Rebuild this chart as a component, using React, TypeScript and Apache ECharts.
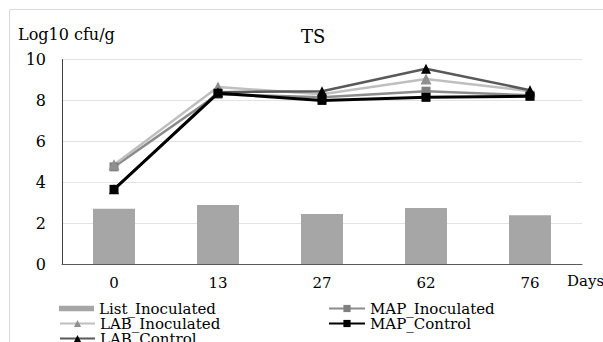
import React, { useEffect, useRef } from "react";
import * as echarts from "echarts";

const days = ["0", "13", "27", "62", "76"];
const listInoculated = [2.7, 2.88, 2.45, 2.74, 2.38];
const mapInoculated = [4.75, 8.3, 8.15, 8.45, 8.25];
const labInoculated = [4.85, 8.65, 8.3, 9.05, 8.45];
const mapControl = [3.65, 8.35, 8.0, 8.15, 8.2];
const labControl = [3.65, 8.4, 8.45, 9.55, 8.5];
const yTicks = { min: 0, max: 10, interval: 2 };

const FONT = "DejaVu Serif";

export default function App() {
  const ref = useRef<HTMLDivElement>(null);
  useEffect(() => {
    if (!ref.current) return;
    const chart = echarts.init(ref.current, undefined, { renderer: "svg" });
    const lineSeries = (
      name: string,
      data: number[],
      lineColor: string,
      markColor: string,
      symbol: string,
      size: number,
      width: number,
      z: number
    ) => ({
      name,
      type: "line",
      data,
      symbol,
      symbolSize: size,
      z,
      lineStyle: { color: lineColor, width },
      itemStyle: { color: markColor },
    });
    const legendText = { fontFamily: FONT, fontSize: 15, color: "#000", lineHeight: 14 };
    const leg = (name: any, left: number, top: number, itemWidth: number) => ({
      left,
      top,
      itemWidth,
      itemHeight: 9,
      padding: 0,
      textStyle: legendText,
      data: [name],
    });
    chart.setOption({
      animation: false,
      title: {
        text: "TS",
        left: 296,
        top: 22,
        textStyle: { fontFamily: FONT, fontSize: 18, fontWeight: "normal", color: "#000" },
      },
      graphic: [
        {
          type: "rect",
          shape: { x: 9.5, y: 9.5, width: 700, height: 400 },
          style: { fill: "none", stroke: "#d9d9d9", lineWidth: 1 },
          silent: true,
        },
        {
          type: "text",
          x: 18,
          y: 34,
          style: { text: "Log10 cfu/g", font: `16px "${FONT}"`, fill: "#000", verticalAlign: "middle" },
        },
        {
          type: "text",
          x: 567,
          y: 281,
          style: { text: "Days", font: `15px "${FONT}"`, fill: "#000", verticalAlign: "middle" },
        },
      ],
      legend: [
        leg({ name: "List_Inoculated", icon: "path://M0,0h38v6h-38z" }, 59, 301, 35),
        leg("MAP_Inoculated", 328, 301, 36),
        leg("LAB_Inoculated", 59, 316, 35),
        leg("MAP_Control", 328, 316, 36),
        leg("LAB_Control", 59, 331, 35),
      ],
      grid: { left: 62, right: 21, top: 59.5, bottom: 78 },
      xAxis: {
        type: "category",
        data: days,
        axisLine: { lineStyle: { color: "#595959", width: 1 } },
        axisTick: { show: false },
        axisLabel: { fontFamily: FONT, fontSize: 15, color: "#000", margin: 11 },
      },
      yAxis: {
        type: "value",
        min: yTicks.min,
        max: yTicks.max,
        interval: yTicks.interval,
        axisLine: { show: true, lineStyle: { color: "#404040", width: 1 } },
        axisTick: { show: false },
        splitLine: { lineStyle: { color: "#e3e3e3", width: 1 } },
        axisLabel: { fontFamily: FONT, fontSize: 16, color: "#000", margin: 16 },
      },
      series: [
        {
          name: "List_Inoculated",
          type: "bar",
          data: listInoculated,
          barWidth: 42,
          itemStyle: { color: "#a6a6a6" },
          z: 1,
        },
        lineSeries("MAP_Inoculated", mapInoculated, "#8c8c8c", "#808080", "rect", 9, 2.5, 3),
        lineSeries("LAB_Inoculated", labInoculated, "#bfbfbf", "#8f8f8f", "triangle", 11, 2.5, 3),
        lineSeries("LAB_Control", labControl, "#595959", "#000000", "triangle", 10, 2.5, 3),
        lineSeries("MAP_Control", mapControl, "#000000", "#000000", "rect", 9, 3, 4),
      ],
    });
    return () => chart.dispose();
  }, []);
  return (
    <div
      ref={ref}
      style={{ position: "absolute", left: 0, top: 0, width: 603, height: 342, background: "#fff" }}
    />
  );
}
